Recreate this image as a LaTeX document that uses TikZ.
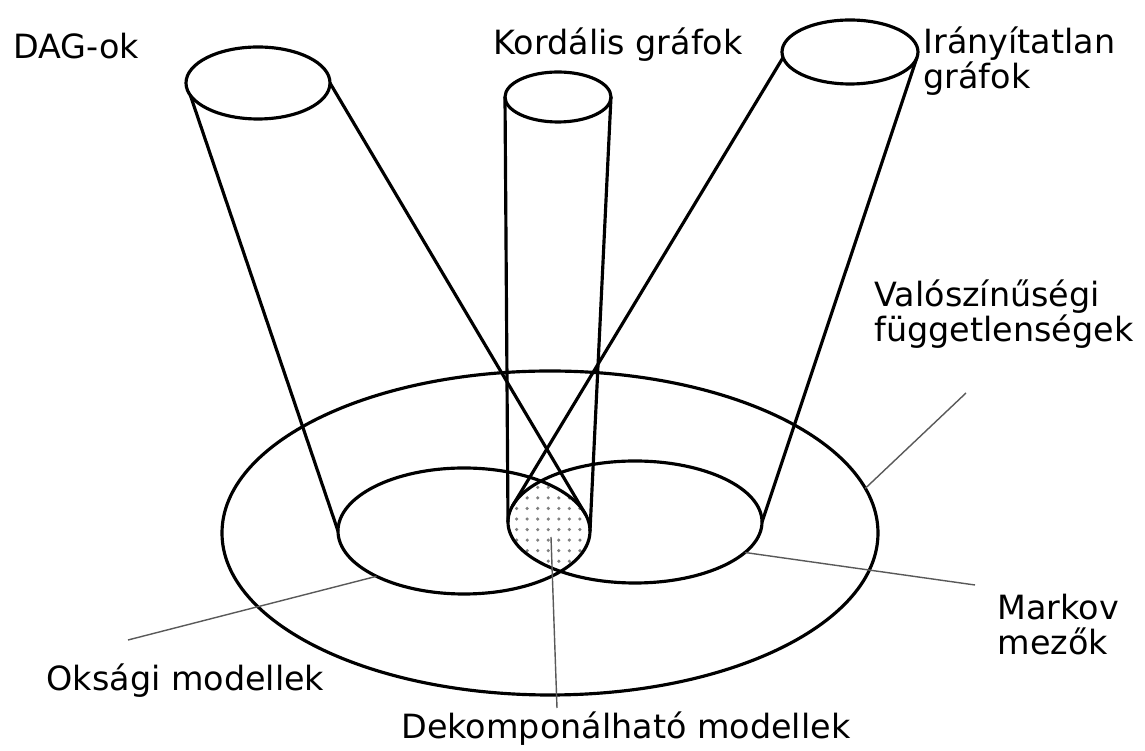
\documentclass[tikz,border=0pt]{standalone}
\usepackage{fontspec}
\setmainfont{DejaVu Sans}
\usetikzlibrary{calc, patterns}

\begin{document}
\begin{tikzpicture}[
    line width=0.9pt,
    label text/.style={font=\fontsize{9.5}{10.2}\selectfont, inner sep=0pt, align=left},
    leader/.style={line width=0.4pt, black!65}
]
    \useasboundingbox (0,0) rectangle (11.45,-7.51);

    % ellipszisek kozeppontjai
    \coordinate (val) at (5.50,-5.33);
    \coordinate (oks) at (4.64,-5.31);
    \coordinate (mrk) at (6.35,-5.22);
    \coordinate (dag) at (2.58,-0.83);
    \coordinate (kor) at (5.58,-0.97);
    \coordinate (ira) at (8.50,-0.52);

    % metszet (pontozott)
    \begin{scope}
        \clip (oks) ellipse [x radius=1.26, y radius=0.63];
        \fill[pattern=dots, pattern color=gray] (mrk) ellipse [x radius=1.27, y radius=0.61];
    \end{scope}

    % nagy ellipszis es a ket kis ellipszis
    \draw (val) ellipse [x radius=3.28, y radius=1.62];
    \draw (oks) ellipse [x radius=1.26, y radius=0.63];
    \draw (mrk) ellipse [x radius=1.27, y radius=0.61];

    % hengerek teteje
    \draw (dag) ellipse [x radius=0.72, y radius=0.36];
    \draw (kor) ellipse [x radius=0.53, y radius=0.25];
    \draw (ira) ellipse [x radius=0.68, y radius=0.32];

    % DAG henger
    \draw ($(dag)+(200:0.72 and 0.36)$) -- ($(oks)+(180:1.26 and 0.63)$);
    \draw ($(dag)+(0:0.72 and 0.36)$) -- ($(oks)+(15:1.26 and 0.63)$);
    % kordalis henger
    \draw ($(kor)+(180:0.53 and 0.25)$) -- ($(mrk)+(180:1.27 and 0.61)$);
    \draw ($(kor)+(0:0.53 and 0.25)$) -- ($(oks)+(0:1.26 and 0.63)$);
    % iranyitatlan henger
    \draw ($(ira)+(190:0.68 and 0.32)$) -- ($(mrk)+(165:1.27 and 0.61)$);
    \draw ($(ira)+(-10:0.68 and 0.32)$) -- ($(mrk)+(0:1.27 and 0.61)$);

    % feliratok
    \node[label text, anchor=base west] (dagok) at (0.12,-0.59) {DAG-ok};
    \node[label text, anchor=base west] (kordalis) at (4.92,-0.55) {Kordális gráfok};
    \node[label text, anchor=base west] (iranyitatlan) at (9.22,-0.89) {Irányítatlan\\gráfok};
    \node[label text, anchor=base west] (valoszinu) at (8.73,-3.42) {Valószínűségi\\függetlenségek};
    \node[label text, anchor=base west] (markov) at (9.96,-6.55) {Markov\\mezők};
    \node[label text, anchor=base west] (oksagi) at (0.45,-6.91) {Oksági modellek};
    \node[label text, anchor=base west] (dekomp) at (4.00,-7.39) {Dekomponálható modellek};

    % mutato vonalak
    \coordinate (valoszinuEnd) at (9.66,-3.93);
    \coordinate (markovEnd) at (9.75,-5.85);
    \coordinate (oksagiEnd) at (1.28,-6.40);
    \coordinate (dekompTop) at (5.51,-5.37);
    \coordinate (dekompEnd) at (5.57,-7.08);
    \draw[leader] ($(val)+(16:3.28 and 1.62)$) -- (valoszinuEnd);
    \draw[leader] ($(mrk)+(-30:1.27 and 0.61)$) -- (markovEnd);
    \draw[leader] ($(oks)+(226:1.26 and 0.63)$) -- (oksagiEnd);
    \draw[leader] (dekompTop) -- (dekompEnd);
\end{tikzpicture}
\end{document}
